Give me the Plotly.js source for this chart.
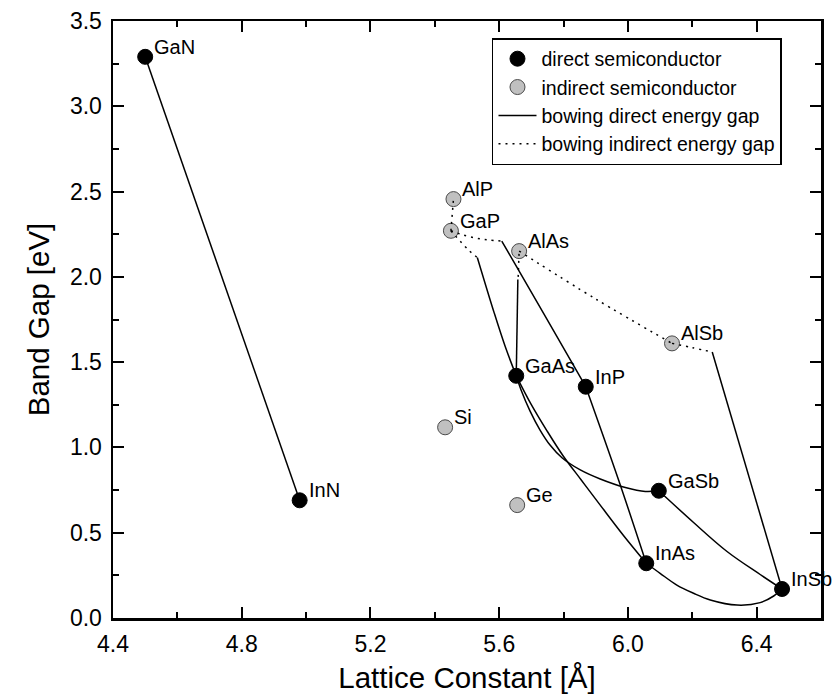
<!DOCTYPE html>
<html>
<head>
<meta charset="utf-8">
<script src="https://cdn.plot.ly/plotly-3.0.1.min.js"></script>
<style>html,body{margin:0;padding:0;background:#fff;}#chart{width:833px;height:700px;}</style>
</head>
<body>
<div id="chart"></div>
<script>
// ---- data ----
const directNames   = ['GaN', 'InN', 'GaAs', 'InP', 'GaSb', 'InAs', 'InSb'];
const directLattice = [4.50, 4.98, 5.653, 5.869, 6.096, 6.057, 6.479];
const directGap     = [3.29, 0.69, 1.42, 1.356, 0.746, 0.321, 0.170];

const indirectNames   = ['AlP', 'GaP', 'AlAs', 'AlSb', 'Si', 'Ge'];
const indirectLattice = [5.458, 5.450, 5.662, 6.137, 5.432, 5.656];
const indirectGap     = [2.456, 2.270, 2.151, 1.610, 1.118, 0.662];

// direct-gap bowing curves (solid)
const dirGaNInN_a   = [4.50, 4.98];
const dirGaNInN_e   = [3.29, 0.69];
const dirGaAsAlAs_a = [5.653, 5.658];
const dirGaAsAlAs_e = [1.42, 1.985];
const dirGaPGaAs_a  = [5.532, 5.585, 5.619, 5.653];
const dirGaPGaAs_e  = [2.114, 1.786, 1.590, 1.42];
const dirGaPInP_a   = [5.608, 5.738, 5.869];
const dirGaPInP_e   = [2.21, 1.786, 1.356];
const dirGaAsInAs_a = [5.653, 5.699, 5.749, 5.799, 5.855, 5.914, 5.985, 6.057];
const dirGaAsInAs_e = [1.42, 1.254, 1.096, 0.950, 0.809, 0.662, 0.487, 0.321];
const dirGaAsGaSb_a = [5.653, 5.668, 5.696, 5.727, 5.758, 5.796, 5.852, 5.914, 5.992, 6.054, 6.096];
const dirGaAsGaSb_e = [1.42, 1.337, 1.213, 1.102, 1.014, 0.938, 0.868, 0.815, 0.765, 0.742, 0.746];
const dirInPInAs_a  = [5.869, 5.971, 6.057];
const dirInPInAs_e  = [1.356, 0.809, 0.321];
const dirGaSbInSb_a = [6.096, 6.204, 6.308, 6.411, 6.479];
const dirGaSbInSb_e = [0.746, 0.560, 0.390, 0.255, 0.170];
const dirInAsInSb_a = [6.057, 6.100, 6.152, 6.204, 6.256, 6.339, 6.411, 6.453, 6.479];
const dirInAsInSb_e = [0.321, 0.262, 0.193, 0.145, 0.106, 0.076, 0.090, 0.129, 0.170];
const dirAlSbInSb_a = [6.262, 6.479];
const dirAlSbInSb_e = [1.559, 0.170];

// indirect-gap bowing curves (dotted)
const indAlPGaP_a   = [5.450, 5.458];
const indAlPGaP_e   = [2.270, 2.456];
const indGaAsAlAs_a = [5.659, 5.662];
const indGaAsAlAs_e = [2.00, 2.151];
const indGaPGaAs_a  = [5.450, 5.504, 5.532];
const indGaPGaAs_e  = [2.270, 2.159, 2.114];
const indGaPInP_a   = [5.450, 5.489, 5.531, 5.567, 5.608];
const indGaPInP_e   = [2.270, 2.245, 2.226, 2.216, 2.21];
const indAlAsAlSb_a = [5.662, 5.90, 6.137];
const indAlAsAlSb_e = [2.151, 1.87, 1.610];
const indAlSbInSb_a = [6.137, 6.20, 6.262];
const indAlSbInSb_e = [1.610, 1.585, 1.559];

const xTickVals = [4.4, 4.8, 5.2, 5.6, 6.0, 6.4];
const yTickVals = [0.0, 0.5, 1.0, 1.5, 2.0, 2.5, 3.0, 3.5];

// ---- build figure ----
const FONT = '"Liberation Sans", Arial, sans-serif';
const traces = [];

traces.push({
  x: directLattice, y: directGap, mode: 'markers', type: 'scatter',
  name: 'direct semiconductor', legendrank: 1,
  marker: {size: 15, color: '#000000', line: {color: '#000000', width: 1}},
  hoverinfo: 'skip'
});
traces.push({
  x: indirectLattice, y: indirectGap, mode: 'markers', type: 'scatter',
  name: 'indirect semiconductor', legendrank: 2,
  marker: {size: 15, color: '#c0c0c0', line: {color: '#4a4a4a', width: 1}},
  hoverinfo: 'skip'
});

const solidCurves = [
  [dirGaNInN_a, dirGaNInN_e], [dirGaAsAlAs_a, dirGaAsAlAs_e], [dirGaPGaAs_a, dirGaPGaAs_e],
  [dirGaPInP_a, dirGaPInP_e], [dirGaAsInAs_a, dirGaAsInAs_e], [dirGaAsGaSb_a, dirGaAsGaSb_e],
  [dirInPInAs_a, dirInPInAs_e], [dirGaSbInSb_a, dirGaSbInSb_e], [dirInAsInSb_a, dirInAsInSb_e],
  [dirAlSbInSb_a, dirAlSbInSb_e]
];
solidCurves.forEach((c, i) => {
  traces.push({
    x: c[0], y: c[1], mode: 'lines', type: 'scatter',
    name: 'bowing direct energy gap', showlegend: i === 0, legendrank: 3,
    line: {color: '#000000', width: 1.5, shape: 'spline', smoothing: 1},
    hoverinfo: 'skip'
  });
});

const dottedCurves = [
  [indAlPGaP_a, indAlPGaP_e], [indGaAsAlAs_a, indGaAsAlAs_e], [indGaPGaAs_a, indGaPGaAs_e],
  [indGaPInP_a, indGaPInP_e], [indAlAsAlSb_a, indAlAsAlSb_e], [indAlSbInSb_a, indAlSbInSb_e]
];
dottedCurves.forEach((c, i) => {
  traces.push({
    x: c[0], y: c[1], mode: 'lines', type: 'scatter',
    name: 'bowing indirect energy gap', showlegend: i === 0, legendrank: 4,
    line: {color: '#000000', width: 1.5, dash: '2px,5px', shape: 'spline', smoothing: 1},
    hoverinfo: 'skip'
  });
});

const annotations = [];
function addLabels(names, xs, ys) {
  names.forEach((n, i) => {
    annotations.push({
      x: xs[i], y: ys[i], text: n, showarrow: false,
      xanchor: 'left', yanchor: 'middle', xshift: 7, yshift: 10,
      font: {family: FONT, size: 20, color: '#000'}
    });
  });
}
addLabels(directNames, directLattice, directGap);
addLabels(indirectNames, indirectLattice, indirectGap);

const axisCommon = {
  showline: true, linecolor: '#000', linewidth: 2.5, mirror: 'ticks',
  ticks: 'inside', ticklen: 11, tickwidth: 2, tickcolor: '#000',
  showgrid: false, zeroline: false,
  tickfont: {family: FONT, size: 23, color: '#000'},
  minor: {ticks: 'inside', ticklen: 6, tickwidth: 2, tickcolor: '#000', showgrid: false}
};

const layout = {
  width: 833, height: 700,
  margin: {l: 113, r: 12, t: 21, b: 82},
  paper_bgcolor: '#fff', plot_bgcolor: '#fff',
  font: {family: FONT, color: '#000'},
  showlegend: true,
  xaxis: Object.assign({}, axisCommon, {
    range: [4.4, 6.6], tickvals: xTickVals, tickformat: '.1f',
    minor: Object.assign({}, axisCommon.minor, {dtick: 0.2, tick0: 4.4}),
    ticklabelstandoff: 4,
    title: {text: 'Lattice Constant [Å]', font: {family: FONT, size: 29.5, color: '#000'}, standoff: 12}
  }),
  yaxis: Object.assign({}, axisCommon, {
    range: [0, 3.5], tickvals: yTickVals, tickformat: '.1f',
    minor: Object.assign({}, axisCommon.minor, {dtick: 0.25, tick0: 0}),
    ticklabelstandoff: 4,
    title: {text: 'Band Gap [eV]', font: {family: FONT, size: 29.5, color: '#000'}, standoff: 12}
  }),
  legend: {
    x: 0.5353, y: 0.9715, xanchor: 'left', yanchor: 'top',
    bgcolor: '#fff', bordercolor: '#000', borderwidth: 1.5,
    font: {family: FONT, size: 19.5, color: '#000'},
    tracegroupgap: 0, itemwidth: 38
  },
  annotations: annotations
};

Plotly.newPlot('chart', traces, layout, {staticPlot: true, displayModeBar: false});
</script>
</body>
</html>
